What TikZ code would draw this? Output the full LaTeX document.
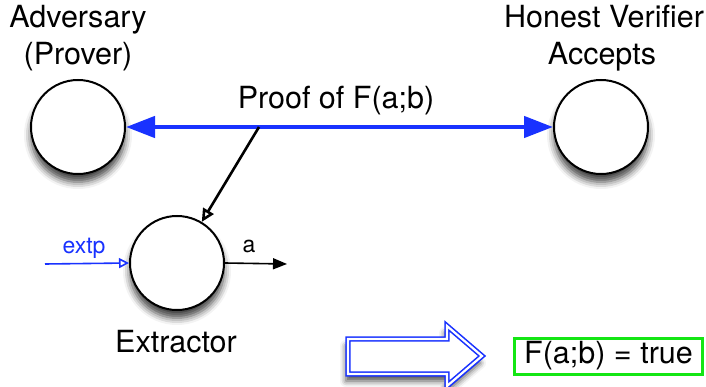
\documentclass[tikz,border=0pt]{standalone}
\usepackage{fontspec}
\setmainfont{TeX Gyre Heros}
\usetikzlibrary{arrows.meta,shadows.blur}
\definecolor{proofblue}{RGB}{25,50,255}
\definecolor{boxgreen}{RGB}{20,230,20}
\tikzset{
  party/.style={circle, draw=black, line width=2pt, fill=white, minimum size=94pt, inner sep=0pt,
    blur shadow={shadow xshift=0pt, shadow yshift=-8pt, shadow blur radius=7pt, shadow opacity=75}},
  bigtext/.style={font=\fontsize{30.5}{36}\selectfont, inner sep=0pt, anchor=base},
  smalltext/.style={font=\fontsize{23}{27}\selectfont, inner sep=0pt, anchor=base},
  proofarrow/.style={draw=proofblue, line width=4.5pt, {Triangle[length=29pt,width=21pt]}-{Triangle[length=29pt,width=21pt]}},
  feedarrow/.style={draw=black, line width=2.6pt, -{Triangle[open, length=13pt, width=12pt]}},
  outarrow/.style={draw=black, line width=1.6pt, -{Triangle[length=14pt, width=11pt]}},
  inarrow/.style={draw=proofblue, line width=1.6pt, -{Triangle[open, length=10pt, width=10pt]}},
}
\begin{document}
\begin{tikzpicture}[x=1pt,y=-1pt]
\useasboundingbox (0,0) rectangle (706,387);

% parties
\node[party] (adv) at (78,127) {};
\node[party] (ver) at (601,127) {};
\node[party] (ext) at (177,263) {};

% labels of the parties
\node[bigtext] (advl1) at (78,28) {Adversary};
\node[bigtext] (advl2) at (78,65) {(Prover)};
\node[bigtext] (verl1) at (604,28) {Honest Verifier};
\node[bigtext] (verl2) at (602,65) {Accepts};
\node[bigtext] (extl) at (176,352) {Extractor};

% the proof exchanged between prover and verifier
\draw[proofarrow] (adv) -- (ver);
\node[bigtext] (proofl) at (336,109) {Proof of F(a;b)};

% extractor observes the proof
\coordinate (tap) at (259,127);
\draw[feedarrow] (tap) -- (ext);

% extractor input and output
\coordinate (inp) at (45,264);
\coordinate (outp) at (287,264);
\draw[inarrow] (inp) -- (ext.west);
\node[smalltext, text=proofblue] (extpl) at (84,253) {extp};
\draw[outarrow] (ext.east) -- (outp);
\node[smalltext] (al) at (249,252) {a};

% implication arrow
\path[draw=proofblue, line width=1.6pt, double=white, double distance=2.2pt, fill=white,
  blur shadow={shadow xshift=-2pt, shadow yshift=-7pt, shadow blur radius=6pt, shadow opacity=70}]
  (348,339) -- (447,339) -- (447,326) -- (482,356) -- (447,386) -- (447,374) -- (348,374) -- cycle;

% conclusion
\node[draw=boxgreen, line width=3pt, minimum width=188pt, minimum height=36pt, inner sep=0pt,
  font=\fontsize{30.5}{36}\selectfont] (res) at (608.5,356) {F(a;b) = true};
\end{tikzpicture}
\end{document}
